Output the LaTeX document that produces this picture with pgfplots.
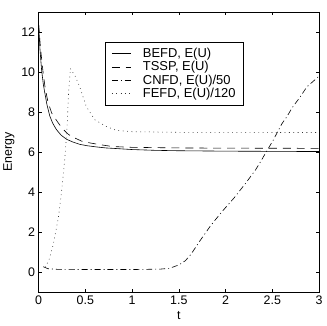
\documentclass[border=0pt]{standalone}
\usepackage{fontspec}
\setmainfont{Liberation Sans}
\usepackage{pgfplots}
\pgfplotsset{compat=1.18}

\newcommand{\chartfont}{\fontsize{12.5}{14}\selectfont}
\newcommand{\legfont}{\fontsize{13}{14}\selectfont}
\newcommand{\lgap}{\hspace{10pt}}

\begin{document}
\begin{tikzpicture}
\begin{axis}[
    scale only axis,
    width=282pt, height=282pt,
    xmin=0, xmax=3, ymin=-1, ymax=13,
    xtick={0,0.5,...,3},
    ytick={0,2,...,12},
    tick pos=both,
    tick align=inside,
    major tick length=3.5pt,
    axis line style={line width=0.6pt},
    every tick/.style={black, line width=0.5pt},
    /pgf/number format/assume math mode=true,
    tick label style={font=\chartfont},
    label style={font=\chartfont},
    xlabel={t},
    ylabel={Energy},
    legend cell align=left,
    legend style={at={(rel axis cs:0.2376,0.8936)}, anchor=north west,
        font=\legfont, draw=black, line width=0.6pt,
        inner xsep=6pt, inner ysep=4pt, row sep=-1.5pt},
    legend image code/.code={%
        \draw[#1, line width=0.6pt] (0pt,0pt) -- (19pt,0pt);},
]
% BEFD
\addplot[black, line width=0.6pt] coordinates {
 (0,12.4) (0.015,11.1) (0.032,10.1) (0.05,9.4) (0.067,8.94) (0.09,8.35)
 (0.12,7.8) (0.15,7.45) (0.19,7.13) (0.24,6.85) (0.30,6.64) (0.37,6.5)
 (0.44,6.39) (0.52,6.32) (0.62,6.26) (0.72,6.21) (0.83,6.18) (1.0,6.13)
 (1.25,6.09) (1.5,6.07) (2.0,6.05) (2.5,6.04) (3.0,6.03)
};
\addlegendentry{\lgap BEFD, E(U)}
% TSSP
\addplot[black, line width=0.6pt, dash pattern=on 8pt off 6pt] coordinates {
 (0,12.4) (0.02,11.2) (0.045,10.1) (0.07,9.2) (0.1,8.5) (0.14,7.95)
 (0.21,7.46) (0.26,7.15) (0.32,6.88) (0.39,6.7) (0.46,6.55) (0.55,6.46)
 (0.635,6.39) (0.79,6.28) (1.0,6.24) (1.5,6.21) (2.0,6.2) (3.0,6.19)
};
\addlegendentry{\lgap TSSP, E(U)}
% CNFD
\addplot[black, line width=0.6pt, dash pattern=on 6pt off 3pt on 1pt off 3pt] coordinates {
 (0.05,0.28) (0.1,0.18) (0.2,0.15) (0.5,0.14) (1.0,0.14) (1.3,0.16)
 (1.4,0.2) (1.5,0.37) (1.57,0.58) (1.63,0.9) (1.73,1.6) (1.84,2.33)
 (1.96,3.02) (2.09,3.71) (2.21,4.42) (2.32,5.11) (2.37,5.49) (2.44,6.05)
 (2.51,6.6) (2.60,7.4) (2.66,7.8) (2.71,8.2) (2.80,8.77) (2.87,9.26)
 (2.97,9.67) (3.0,9.8)
};
\addlegendentry{\lgap CNFD, E(U)/50}
% FEFD
\addplot[black!80, line width=0.6pt, dash pattern=on 0.8pt off 3.6pt] coordinates {
 (0.07,0.25) (0.11,0.6) (0.156,1.38) (0.21,2.69) (0.245,4.0) (0.28,5.65)
 (0.305,7.29) (0.32,8.94) (0.34,10.17) (0.39,9.8) (0.44,9.26) (0.51,8.28)
 (0.60,7.62) (0.72,7.29) (0.83,7.09) (1.0,7.02) (1.5,6.99) (3.0,6.98)
};
\addlegendentry{\lgap FEFD, E(U)/120}
\coordinate (bl) at (rel axis cs:0,0);
\coordinate (tr) at (rel axis cs:1,1);
\end{axis}
\path (bl) ++(-37pt,-33pt) (tr) ++(8pt,12pt);
\end{tikzpicture}
\end{document}
